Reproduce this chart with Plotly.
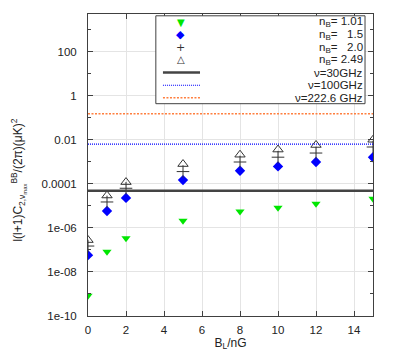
import plotly.graph_objects as go

# magnetic field amplitude (nG)
b_field = [0, 1, 2, 5, 8, 10, 12, 15]

# l(l+1)C_l^BB/(2pi) at nu_max, one list per spectral index n_B
c_n101 = [8.3e-10, 8.3e-08, 3.4e-07, 2.1e-06, 5.5e-06, 8.3e-06, 1.26e-05, 2.1e-05]
c_n150 = [5.8e-08, 5.8e-06, 2.3e-05, 1.48e-04, 3.9e-04, 6.2e-04, 9.8e-04, 1.62e-03]
c_n200 = [1.5e-07, 1.5e-05, 6.3e-05, 3.6e-04, 9.8e-04, 1.62e-03, 2.5e-03, 4.7e-03]
c_n249 = [2.8e-07, 2.95e-05, 1.2e-04, 7.9e-04, 2.1e-03, 3.6e-03, 5.8e-03, 1.0e-02]

# foreground / noise levels
nu_labels = ["ν=30GHz", "ν=100GHz", "ν=222.6 GHz"]
nu_levels = [4.8e-05, 6.3e-03, 0.15]

ytick_vals = [1e-10, 1e-08, 1e-06, 1e-04, 1e-02, 1, 100]
ytick_text = ["1e-10", "1e-08", "1e-06", "0.0001", "0.01", "1", "100"]
xtick_vals = [0, 2, 4, 6, 8, 10, 12, 14]

FONT = "Liberation Sans"
AXIS = "#404040"
GREEN = "#00e600"
BLUE = "#0000ff"
ORANGE = "#ff7f3f"
GRAY = "#333333"

fig = go.Figure()

fig.add_trace(go.Scatter(x=b_field, y=c_n101, mode="markers", name="n_B=1.01",
                         marker=dict(symbol="triangle-down", size=8, color=GREEN)))
fig.add_trace(go.Scatter(x=b_field, y=c_n150, mode="markers", name="n_B=1.5",
                         marker=dict(symbol="diamond", size=8, color=BLUE)))
fig.add_trace(go.Scatter(x=b_field, y=c_n200, mode="markers", name="n_B=2.0",
                         marker=dict(symbol="cross-thin-open", size=9, color=GRAY,
                                     line=dict(width=1, color=GRAY))))
fig.add_trace(go.Scatter(x=b_field, y=c_n249, mode="markers", name="n_B=2.49",
                         marker=dict(symbol="triangle-up-open", size=9, color=GRAY,
                                     line=dict(width=1, color=GRAY))))

line_styles = [dict(color="#444444", width=2.5, dash="solid"),
               dict(color=BLUE, width=1.2, dash="1px,1px"),
               dict(color=ORANGE, width=1.5, dash="2px,1.5px")]
for lvl, st in zip(nu_levels, line_styles):
    fig.add_hline(y=lvl, line=st, layer="above")

# hand-built legend box (gnuplot style, right-aligned labels)
lx0, lx1, ly0, ly1 = 0.238, 0.972, 0.703, 0.994
rows = [0.972, 0.931, 0.889, 0.848, 0.806, 0.764, 0.723]
fig.add_shape(type="rect", xref="paper", yref="paper", x0=lx0, x1=lx1, y0=ly0, y1=ly1,
              line=dict(color=AXIS, width=1), fillcolor="white", layer="above")
leg_text = ["n<sub>B</sub>= 1.01", "n<sub>B</sub>=   1.5", "n<sub>B</sub>=   2.0",
            "n<sub>B</sub>= 2.49"] + nu_labels
glyphs = [("▼", GREEN, 10), ("◆", BLUE, 11), ("+", GRAY, 11), ("△", GRAY, 10)]
for i, (g, c, s) in enumerate(glyphs):
    fig.add_annotation(x=0.326, y=rows[i], xref="paper", yref="paper", text=g,
                       showarrow=False, xanchor="center", yanchor="middle", borderpad=0,
                       font=dict(family="DejaVu Sans", size=s, color=c))
for i, st in enumerate(line_styles):
    fig.add_shape(type="line", xref="paper", yref="paper", x0=0.263, x1=0.393,
                  y0=rows[4 + i], y1=rows[4 + i], line=st, layer="above")
for i, t in enumerate(leg_text):
    fig.add_annotation(x=0.967, y=rows[i], xref="paper", yref="paper", text=t.replace(" ", "\u00a0"),
                       showarrow=False, xanchor="right", yanchor="middle", borderpad=0,
                       font=dict(family=FONT, size=11.5, color="#222222"))

# y label as a rotated annotation (sits a little below the plot centre, as in gnuplot)
fig.add_annotation(x=-0.244, y=0.45, xref="paper", yref="paper", textangle=-90,
                   text="l(l+1)C<sub>2,ν<sub>max</sub></sub><sup>BB</sup>/(2π)(μK)<sup>2</sup>",
                   showarrow=False, xanchor="center", yanchor="middle",
                   font=dict(family=FONT, size=12, color="#222222"))

# the page body keeps an 8px margin, so the figure is 8px smaller
fig.update_layout(
    width=386, height=346,
    margin=dict(l=80, r=21, t=6, b=38),
    paper_bgcolor="white", plot_bgcolor="white",
    showlegend=False,
    font=dict(family=FONT, size=11, color="#222222"),
)
fig.update_xaxes(range=[0, 15], tickvals=xtick_vals, ticks="inside", ticklen=5,
                 tickcolor=AXIS, showline=True, linecolor=AXIS, linewidth=1, mirror="ticks",
                 showgrid=True, gridcolor="#e4e4e4", gridwidth=1, zeroline=False,
                 automargin=False, tickfont=dict(size=11.5), ticklabelstandoff=3,
                 title=dict(text="B<sub>L</sub>/nG", standoff=3, font=dict(size=12)))
fig.update_yaxes(type="log", range=[-10, 3.71], tickvals=ytick_vals, ticktext=ytick_text,
                 ticks="inside", ticklen=5, tickcolor=AXIS, showline=True, linecolor=AXIS,
                 linewidth=1, mirror="ticks", showgrid=True, gridcolor="#e4e4e4",
                 automargin=False, tickfont=dict(size=11.5), ticklabelstandoff=8,
                 minor=dict(tickvals=[1e-09, 1e-07, 1e-05, 1e-03, 0.1, 10, 1000],
                            ticks="inside", ticklen=3, tickcolor=AXIS, showgrid=False))

fig.write_html("out.html")
